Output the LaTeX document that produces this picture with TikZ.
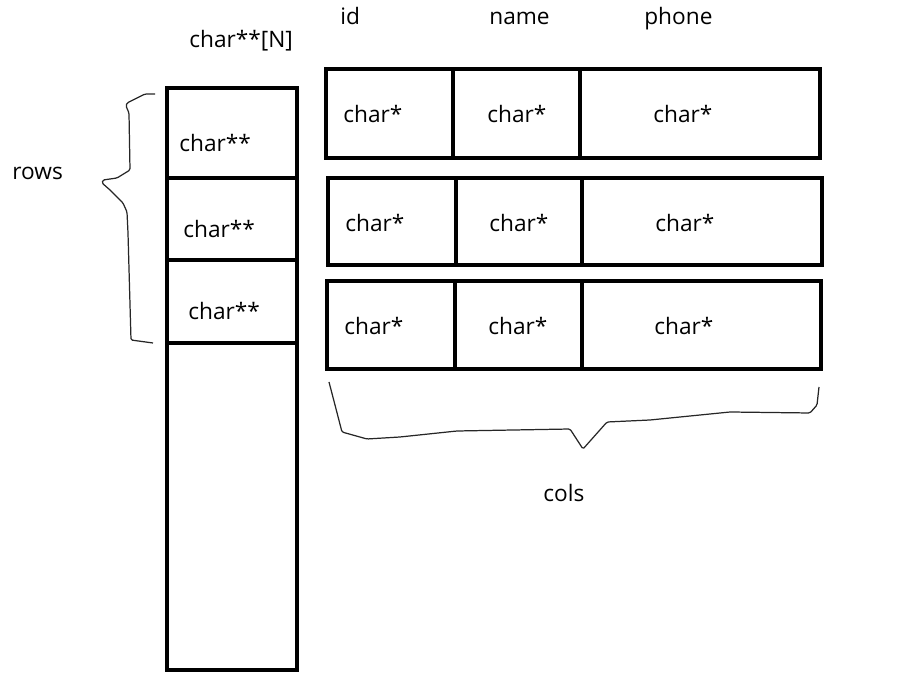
\documentclass[tikz,border=0pt]{standalone}
\usepackage{fontspec}
\setmainfont{Open Sans}
\usetikzlibrary{positioning}
\tikzset{
  cell/.style={line width=2.1pt, black},
  brace/.style={line width=0.7pt, black!85, rounded corners=0.8pt},
  lbl/.style={font=\fontsize{12.9}{15}\selectfont, inner sep=0pt, anchor=base west},
}

\begin{document}
\begin{tikzpicture}[x=0.02cm, y=-0.02cm]
\useasboundingbox (0,0) rectangle (907,678);

% ---- Pointer column: char**[N] ----
\draw[cell] (167,88) rectangle (297,670);
\foreach \y in {178,260,343}
  \draw[cell] (167,\y) -- (297,\y);
\node[lbl] (arr) at (189,48) {char**[N]};
\node[lbl] (p1) at (179,152) {char**};
\node[lbl] (p2) at (183,238) {char**};
\node[lbl] (p3) at (188,320) {char**};

% ---- Rows: three records, id / name / phone ----
\foreach \l/\a/\b/\r/\t/\bt in {326/453/580/820/69/158, 328/456/582/822/178/265, 327/455/582/821/281/369}{
  \draw[cell] (\l,\t) rectangle (\r,\bt);
  \draw[cell] (\a,\t) -- (\a,\bt);
  \draw[cell] (\b,\t) -- (\b,\bt);
}
\foreach \y/\xa/\xb/\xc/\n in {123/343/487/653/1, 232/345/489/655/2, 335/344/488/654/3}{
  \node[lbl] (id\n) at (\xa,\y) {char*};
  \node[lbl] (name\n) at (\xb,\y) {char*};
  \node[lbl] (phone\n) at (\xc,\y) {char*};
}

% ---- Column headers ----
\node[lbl] (hid) at (340,25) {id};
\node[lbl] (hname) at (489,25) {name};
\node[lbl] (hphone) at (644,25) {phone};

% ---- Braces ----
\draw[brace] (155,94) -- (145,94) -- (127,103) -- (126,106) -- (129,113) -- (130,170)
  -- (117,178) -- (103,180) -- (102,183) -- (110,190) -- (123,203) -- (127,212)
  -- (128,233) -- (131,340) -- (153,343);
\node[lbl] (rows) at (12,180) {rows};

\draw[brace] (329,382) -- (335,405) -- (342,432) -- (367,439) -- (400,437) -- (457,431)
  -- (570,429) -- (583,449) -- (607,422) -- (650,420) -- (730,412) -- (810,413)
  -- (817,405) -- (819,387);
\node[lbl] (cols) at (543,502) {cols};
\end{tikzpicture}
\end{document}
